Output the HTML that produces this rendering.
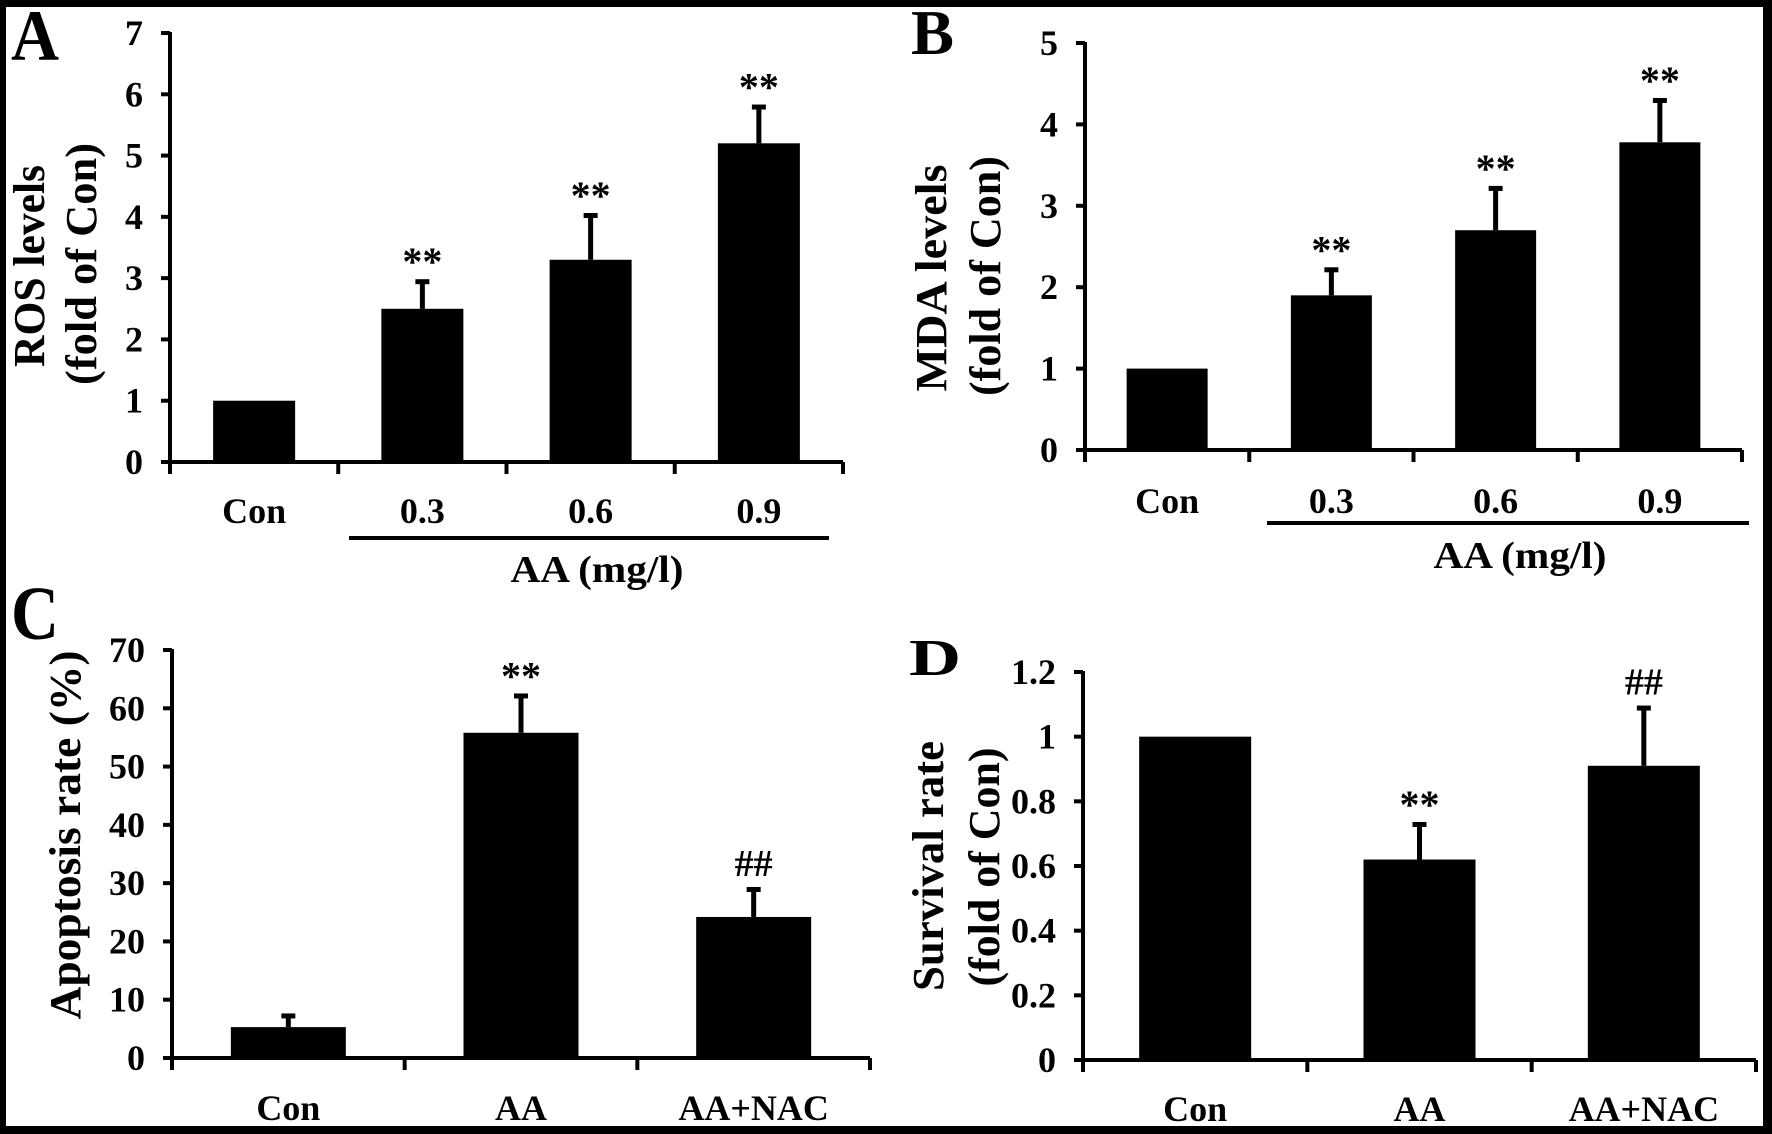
<!DOCTYPE html>
<html><head><meta charset="utf-8"><style>
html,body{margin:0;padding:0;background:#000;}
svg{display:block;}
text{font-family:"Liberation Serif",serif;font-weight:bold;fill:#000;}
</style></head><body>
<svg id="fig" width="1772" height="1134" viewBox="0 0 1772 1134" xmlns="http://www.w3.org/2000/svg">
<rect x="0" y="0" width="1772" height="1134" fill="#000"/>
<rect x="6" y="7" width="1757" height="1119" fill="#fff"/>
</svg>
<script>
// Panel A data
const catsA = ["Con","0.3","0.6","0.9"];
const valsA = [1, 2.5, 3.3, 5.2];
const errA = [0, 0.45, 0.73, 0.6];
const marksA = ["", "**", "**", "**"];
const ticksA = [0,1,2,3,4,5,6,7];
// Panel B data
const catsB = ["Con","0.3","0.6","0.9"];
const valsB = [1, 1.9, 2.7, 3.78];
const errB = [0, 0.32, 0.52, 0.52];
const marksB = ["", "**", "**", "**"];
const ticksB = [0,1,2,3,4,5];
// Panel C data
const catsC = ["Con","AA","AA+NAC"];
const valsC = [5.3, 55.8, 24.2];
const errC = [2.0, 6.4, 4.8];
const marksC = ["", "**", "##"];
const ticksC = [0,10,20,30,40,50,60,70];
const tickLabelsC = ["0","10","20","30","40","50","60","70"];
// Panel D data
const catsD = ["Con","AA","AA+NAC"];
const valsD = [1, 0.62, 0.91];
const errD = [0, 0.11, 0.18];
const marksD = ["", "**", "##"];
const ticksD = [0,0.2,0.4,0.6,0.8,1,1.2];
const tickLabelsD = ["0","0.2","0.4","0.6","0.8","1","1.2"];

const svg = document.getElementById('fig');
const NS = 'http://www.w3.org/2000/svg';
function mk(tag, attrs){const e=document.createElementNS(NS,tag);for(const k in attrs)e.setAttribute(k,attrs[k]);svg.appendChild(e);return e;}

function panel(p){
  const y = v => p.y0 - (v - 0) / p.ymax * (p.y0 - p.ytop);
  const n = p.cats.length;
  const step = (p.xend - p.xa) / n;
  const x = i => p.xa + step * (i + 0.5);
  // axes
  let e = mk('line',{x1:p.xa,y1:y(p.ymax)-1,x2:p.xa,y2:p.y0+12,stroke:'#000','stroke-width':4});
  
  
  e = mk('line',{x1:p.xa-8,y1:p.y0,x2:p.xend,y2:p.y0,stroke:'#000','stroke-width':4});
  
  
  p.ticks.forEach((t,i)=>{
    const l = mk('line',{x1:p.xa-9,y1:y(t),x2:p.xa,y2:y(t),stroke:'#000','stroke-width':4});
    
    
    const tx = mk('text',{x:p.xa-27,y:y(t)+12,'text-anchor':'end','font-size':36});
    tx.textContent = p.tickLabels ? p.tickLabels[i] : String(t);
    
    
  });
  for(let i=0;i<=n;i++){
    const l = mk('line',{x1:p.xa+step*i,y1:p.y0,x2:p.xa+step*i,y2:p.y0+12,stroke:'#000','stroke-width':4});
    
    
  }
  p.cats.forEach((c,i)=>{
    const cx = x(i);
    const top = y(p.vals[i]);
    const b = mk('rect',{x:cx-p.bw/2,y:top,width:p.bw,height:p.y0-top,fill:'#000'});
    
    
    if(p.err[i]>0){
      const et = y(p.vals[i]+p.err[i]);
      const el = mk('line',{x1:cx,y1:top,x2:cx,y2:et,stroke:'#000','stroke-width':5});
      
      
      const cap = mk('rect',{x:cx-7,y:et-2,width:14,height:5,fill:'#000'});
      
      
    }
    if(p.marks[i]){
      const capY = y(p.vals[i]+p.err[i]);
      const isHash = p.marks[i]==='##';
      const m = mk('text',{x:cx,y:isHash?capY-13:capY-6,'text-anchor':'middle','font-size':isHash?38:40,'font-weight':'normal'});
      m.textContent = p.marks[i];
      
      
    }
    const lb = mk('text',{x:cx,y:p.labY,'text-anchor':'middle','font-size':36});
    lb.textContent = c;
    
    
  });
  // y titles
  p.titles.forEach(t=>{
    const tt = mk('text',{x:0,y:0,'text-anchor':'middle','font-size':44,textLength:t.len,lengthAdjust:'spacingAndGlyphs',transform:`translate(${t.x},${t.cy}) rotate(-90)`});
    tt.textContent = t.s;
    
    
  });
  const L = mk('text',{x:p.letter[0],y:p.letter[1],'font-size':p.letter[3],textLength:p.letter[2],lengthAdjust:'spacingAndGlyphs'});
  L.textContent = p.id.toUpperCase().slice(-1);
  
  
  if(p.group){
    const g = p.group;
    const ul = mk('line',{x1:g.x1,y1:g.y,x2:g.x2,y2:g.y,stroke:'#000','stroke-width':4});
    
    
    const gt = mk('text',{x:g.cx,y:g.ty,'text-anchor':'middle','font-size':38,textLength:173,lengthAdjust:'spacingAndGlyphs'});
    gt.textContent = 'AA (mg/l)';
    
    
  }
}

panel({id:'panel-a',cats:catsA,vals:valsA,err:errA,marks:marksA,ticks:ticksA,ymax:7,
  xa:170,xend:843,y0:462,ytop:33,bw:82,labY:523,
  titles:[{s:'ROS levels',x:44,cy:266,len:202},{s:'(fold of Con)',x:96,cy:264,len:242}],
  letter:[11,60,48,72],
  group:{x1:349,x2:829,y:538,cx:597,ty:582}});
panel({id:'panel-b',cats:catsB,vals:valsB,err:errB,marks:marksB,ticks:ticksB,ymax:5,
  xa:1085,xend:1742,y0:450,ytop:43,bw:81,labY:513,
  titles:[{s:'MDA levels',x:946,cy:278,len:227},{s:'(fold of Con)',x:1000,cy:276,len:240}],
  letter:[911,54,43,64],
  group:{x1:1267,x2:1749,y:523,cx:1520,ty:568}});
panel({id:'panel-c',cats:catsC,vals:valsC,err:errC,marks:marksC,ticks:ticksC,tickLabels:tickLabelsC,ymax:70,
  xa:172,xend:870,y0:1058,ytop:650,bw:115,labY:1120,
  titles:[{s:'Apoptosis rate (%)',x:80,cy:835,len:369}],
  letter:[11,639,48,76]});
panel({id:'panel-d',cats:catsD,vals:valsD,err:errD,marks:marksD,ticks:ticksD,tickLabels:tickLabelsD,ymax:1.2,
  xa:1083,xend:1756,y0:1060,ytop:672,bw:112,labY:1121,
  titles:[{s:'Survival rate',x:943,cy:866,len:250},{s:'(fold of Con)',x:999,cy:867,len:239}],
  letter:[909,675,52,52]});
</script>
</body></html>
